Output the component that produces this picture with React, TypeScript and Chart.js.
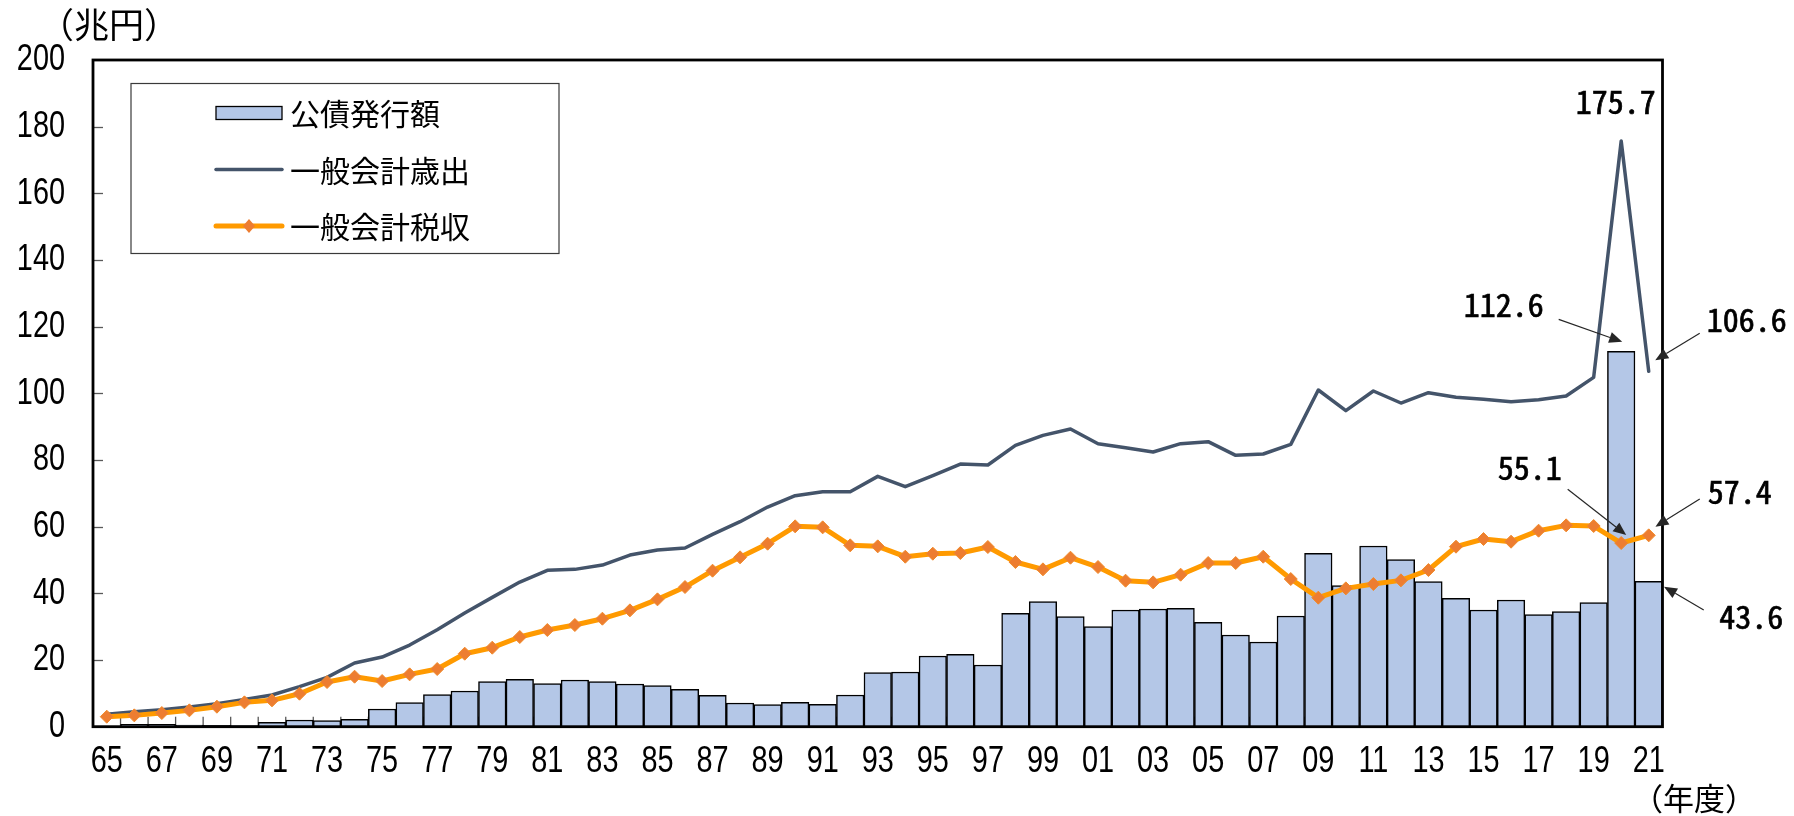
import { useEffect, useRef } from 'react';
import { Chart, registerables } from 'chart.js';

Chart.register(...registerables);

// ---- data (兆円) ----
const years = [
  '65', '66', '67', '68', '69', '70', '71', '72', '73', '74',
  '75', '76', '77', '78', '79', '80', '81', '82', '83', '84',
  '85', '86', '87', '88', '89', '90', '91', '92', '93', '94',
  '95', '96', '97', '98', '99', '00', '01', '02', '03', '04',
  '05', '06', '07', '08', '09', '10', '11', '12', '13', '14',
  '15', '16', '17', '18', '19', '20', '21',
];

const bondIssuance = [
  0.2, 0.7, 0.7, 0.5, 0.4, 0.3, 1.3, 2.0, 1.8, 2.2,
  5.3, 7.2, 9.6, 10.7, 13.5, 14.2, 12.9, 14.0, 13.5, 12.8,
  12.3, 11.2, 9.4, 7.1, 6.6, 7.3, 6.7, 9.5, 16.2, 16.4,
  21.2, 21.7, 18.5, 34.0, 37.5, 33.0, 30.0, 35.0, 35.3, 35.5,
  31.3, 27.5, 25.4, 33.2, 52.0, 42.3, 54.2, 50.1, 43.5, 38.5,
  35.0, 38.0, 33.6, 34.5, 37.2, 112.6, 43.6,
];

const expenditure = [
  3.7, 4.5, 5.1, 5.9, 6.9, 8.2, 9.5, 12.0, 14.8, 19.1,
  20.9, 24.5, 29.1, 34.1, 38.8, 43.4, 46.9, 47.2, 48.5, 51.5,
  53.0, 53.6, 57.7, 61.5, 65.9, 69.3, 70.5, 70.5, 75.1, 72.0,
  75.3, 78.8, 78.5, 84.4, 87.4, 89.3, 84.9, 83.7, 82.4, 84.9,
  85.5, 81.4, 81.8, 84.7, 101.0, 94.8, 100.7, 97.1, 100.2, 98.8,
  98.2, 97.5, 98.1, 99.2, 104.8, 175.7, 106.6,
];

const taxRevenue = [
  3.0, 3.4, 4.1, 4.9, 6.0, 7.3, 7.9, 9.9, 13.4, 15.0,
  13.7, 15.7, 17.3, 21.9, 23.7, 26.9, 29.0, 30.5, 32.4, 34.9,
  38.2, 41.9, 46.8, 50.8, 54.9, 60.1, 59.8, 54.4, 54.1, 51.0,
  51.9, 52.1, 53.9, 49.4, 47.2, 50.7, 47.9, 43.8, 43.3, 45.6,
  49.1, 49.1, 51.0, 44.3, 38.7, 41.5, 42.8, 43.9, 47.0, 54.0,
  56.3, 55.5, 58.8, 60.4, 60.2, 55.1, 57.4,
];

const yMin = 0;
const yMax = 200;
const yStep = 20;

const seriesNames = ['公債発行額', '一般会計歳出', '一般会計税収'];
const unitLabel = '（兆円）';
const xUnitLabel = '（年度）';

// ---- styles ----
const SANS = "'Liberation Sans', Arial, sans-serif";
const MONO = "'Noto Sans Mono CJK JP', 'Noto Sans CJK JP', monospace";
const CJK = "'Noto Sans CJK JP', 'Noto Sans CJK SC', sans-serif";
const BAR_FILL = '#B4C7E7';
const EXP_COLOR = '#44546A';
const TAX_COLOR = '#FF9A00';
const TAX_MARKER = '#ED7D31';
const NARROW_X = 0.78;

function drawNarrow(ctx: CanvasRenderingContext2D, text: string, x: number, y: number, align: CanvasTextAlign) {
  ctx.save();
  ctx.translate(x, y);
  ctx.scale(NARROW_X, 1);
  ctx.textAlign = align;
  ctx.textBaseline = 'middle';
  ctx.fillText(text, 0, 0);
  ctx.restore();
}

function drawArrow(ctx: CanvasRenderingContext2D, x1: number, y1: number, x2: number, y2: number) {
  const ang = Math.atan2(y2 - y1, x2 - x1);
  const head = 13;
  const hw = 5.5;
  const c = Math.cos(ang);
  const s = Math.sin(ang);
  ctx.save();
  ctx.strokeStyle = '#262626';
  ctx.fillStyle = '#262626';
  ctx.lineWidth = 1.2;
  ctx.beginPath();
  ctx.moveTo(x1, y1);
  ctx.lineTo(x2 - head * c, y2 - head * s);
  ctx.stroke();
  ctx.beginPath();
  ctx.moveTo(x2, y2);
  ctx.lineTo(x2 - head * c + hw * s, y2 - head * s - hw * c);
  ctx.lineTo(x2 - head * c - hw * s, y2 - head * s + hw * c);
  ctx.closePath();
  ctx.fill();
  ctx.restore();
}

const framePlugin = {
  id: 'framePlugin',
  beforeDatasetsDraw(chart: any) {
    const { ctx, chartArea, scales } = chart;
    const xs = scales.x;
    const ys = scales.y;
    ctx.save();
    ctx.strokeStyle = '#595959';
    ctx.lineWidth = 1.3;
    // inward y tick marks
    for (let v = yMin + yStep; v < yMax; v += yStep) {
      const y = Math.round(ys.getPixelForValue(v)) + 0.5;
      ctx.beginPath();
      ctx.moveTo(chartArea.left, y);
      ctx.lineTo(chartArea.left + 10, y);
      ctx.stroke();
    }
    // inward x tick marks at category boundaries
    for (let i = 1; i < years.length; i++) {
      const x = (xs.getPixelForValue(i - 1) + xs.getPixelForValue(i)) / 2;
      ctx.beginPath();
      ctx.moveTo(x, chartArea.bottom);
      ctx.lineTo(x, chartArea.bottom - 10);
      ctx.stroke();
    }
    ctx.restore();
  },
  afterDatasetsDraw(chart: any) {
    const { ctx, chartArea, scales } = chart;
    const xs = scales.x;
    const ys = scales.y;
    ctx.save();
    // plot frame
    ctx.strokeStyle = '#000';
    ctx.lineWidth = 2.8;
    ctx.strokeRect(chartArea.left, chartArea.top, chartArea.right - chartArea.left, chartArea.bottom - chartArea.top);

    // axis tick labels (narrow face)
    ctx.fillStyle = '#000';
    ctx.font = `37px ${SANS}`;
    ys.ticks.forEach((t: any) => {
      drawNarrow(ctx, String(t.value), chartArea.left - 28, ys.getPixelForValue(t.value), 'right');
    });
    years.forEach((lab, i) => {
      if (i % 2 === 0) drawNarrow(ctx, lab, xs.getPixelForValue(i), chartArea.bottom + 35, 'center');
    });

    // legend box
    const lx = 131;
    const ly = 83.5;
    ctx.lineWidth = 1.2;
    ctx.strokeStyle = '#3a3a3a';
    ctx.fillStyle = '#fff';
    ctx.fillRect(lx, ly, 428, 170);
    ctx.strokeRect(lx, ly, 428, 170);
    const sx = 216;
    const sw = 66;
    const tx = 290;
    const rows = [113, 169.5, 226];
    ctx.fillStyle = BAR_FILL;
    ctx.fillRect(sx, rows[0] - 6.5, sw, 13);
    ctx.strokeStyle = '#000';
    ctx.lineWidth = 1.3;
    ctx.strokeRect(sx, rows[0] - 6.5, sw, 13);
    ctx.strokeStyle = EXP_COLOR;
    ctx.lineWidth = 3.5;
    ctx.lineCap = 'round';
    ctx.beginPath();
    ctx.moveTo(sx, rows[1]);
    ctx.lineTo(sx + sw, rows[1]);
    ctx.stroke();
    ctx.strokeStyle = TAX_COLOR;
    ctx.lineWidth = 5;
    ctx.beginPath();
    ctx.moveTo(sx, rows[2]);
    ctx.lineTo(sx + sw, rows[2]);
    ctx.stroke();
    const mx = sx + sw / 2;
    ctx.fillStyle = TAX_MARKER;
    ctx.beginPath();
    ctx.moveTo(mx, rows[2] - 7);
    ctx.lineTo(mx + 6, rows[2]);
    ctx.lineTo(mx, rows[2] + 7);
    ctx.lineTo(mx - 6, rows[2]);
    ctx.closePath();
    ctx.fill();
    ctx.lineCap = 'butt';
    ctx.fillStyle = '#000';
    ctx.font = `30px ${CJK}`;
    ctx.textAlign = 'left';
    ctx.textBaseline = 'middle';
    seriesNames.forEach((n, i) => ctx.fillText(n, tx, rows[i] + 1));

    // unit labels
    ctx.textAlign = 'center';
    ctx.font = `35px ${CJK}`;
    ctx.fillText(unitLabel, 109, 25);
    ctx.font = `31px ${CJK}`;
    ctx.fillText(xUnitLabel, 1694, 798);

    // annotations
    const pt = (ds: number, i: number) => {
      const el = chart.getDatasetMeta(ds).data[i];
      return { x: el.x, y: el.y };
    };
    const BAR = 2;
    const EXP = 1;
    const TAX = 0;
    const last = years.length - 1;
    const prev = years.length - 2;
    const notes = [
      { ds: EXP, i: prev, v: expenditure[prev], t: [-5.5, -39], a: null },
      { ds: BAR, i: prev, v: bondIssuance[prev], t: [-117.5, -46.7], a: [-62.5, -32, 1, -9.5] },
      { ds: EXP, i: last, v: expenditure[last], t: [98, -51.4], a: [51, -38, 6.5, -11] },
      { ds: TAX, i: prev, v: taxRevenue[prev], t: [-91.5, -75], a: [-53.5, -53.7, 5, -8] },
      { ds: TAX, i: last, v: taxRevenue[last], t: [91, -43.4], a: [51, -36.4, 6.7, -8.7] },
      { ds: BAR, i: last, v: bondIssuance[last], t: [102.5, 35.6], a: [55, 28.6, 15.3, 5.3] },
    ];
    ctx.font = `32px ${MONO}`;
    ctx.fillStyle = '#000';
    ctx.strokeStyle = '#000';
    ctx.lineWidth = 0.7;
    ctx.textAlign = 'center';
    ctx.textBaseline = 'middle';
    for (const n of notes) {
      const p = pt(n.ds, n.i);
      const label = n.v.toFixed(1);
      ctx.fillText(label, p.x + n.t[0], p.y + n.t[1]);
      ctx.strokeText(label, p.x + n.t[0], p.y + n.t[1]);
      if (n.a) drawArrow(ctx, p.x + n.a[0], p.y + n.a[1], p.x + n.a[2], p.y + n.a[3]);
    }
    ctx.restore();
  },
};

export default function App() {
  const ref = useRef<HTMLCanvasElement>(null);

  useEffect(() => {
    document.body.style.margin = '0';
    const chart = new Chart(ref.current as HTMLCanvasElement, {
      type: 'bar',
      data: {
        labels: years,
        datasets: [
          {
            type: 'line',
            label: seriesNames[2],
            data: taxRevenue,
            borderColor: TAX_COLOR,
            borderWidth: 5,
            borderJoinStyle: 'round',
            borderCapStyle: 'round',
            pointStyle: 'rectRot',
            pointRadius: 6.5,
            pointBackgroundColor: TAX_MARKER,
            pointBorderColor: '#F08A2A',
            pointBorderWidth: 1,
            tension: 0,
            order: 1,
          } as any,
          {
            type: 'line',
            label: seriesNames[1],
            data: expenditure,
            borderColor: EXP_COLOR,
            borderWidth: 3.5,
            borderJoinStyle: 'round',
            borderCapStyle: 'round',
            pointRadius: 0,
            tension: 0,
            order: 2,
          } as any,
          {
            type: 'bar',
            label: seriesNames[0],
            data: bondIssuance,
            backgroundColor: BAR_FILL,
            borderColor: '#000',
            borderWidth: 1.5,
            barPercentage: 1,
            categoryPercentage: 1,
            order: 3,
          } as any,
        ],
      },
      options: {
        responsive: false,
        animation: false,
        devicePixelRatio: 1,
        layout: { padding: { top: 60, right: 131.5, bottom: 0, left: 0 } },
        plugins: {
          legend: { display: false },
          tooltip: { enabled: false },
        },
        scales: {
          x: {
            type: 'category',
            offset: true,
            grid: { display: false, drawTicks: false },
            border: { display: false },
            ticks: { display: false, autoSkip: false },
            afterFit: (s: any) => {
              s.height = 89.3;
            },
          },
          y: {
            min: yMin,
            max: yMax,
            grid: { display: false, drawTicks: false },
            border: { display: false },
            ticks: { display: false, stepSize: yStep },
            afterFit: (s: any) => {
              s.width = 93;
            },
          },
        },
      } as any,
      plugins: [framePlugin],
    });
    return () => chart.destroy();
  }, []);

  return (
    <div style={{ position: 'fixed', left: 0, top: 0, width: 1794, height: 816, background: '#fff' }}>
      <canvas ref={ref} width={1794} height={816} style={{ display: 'block' }} />
    </div>
  );
}
